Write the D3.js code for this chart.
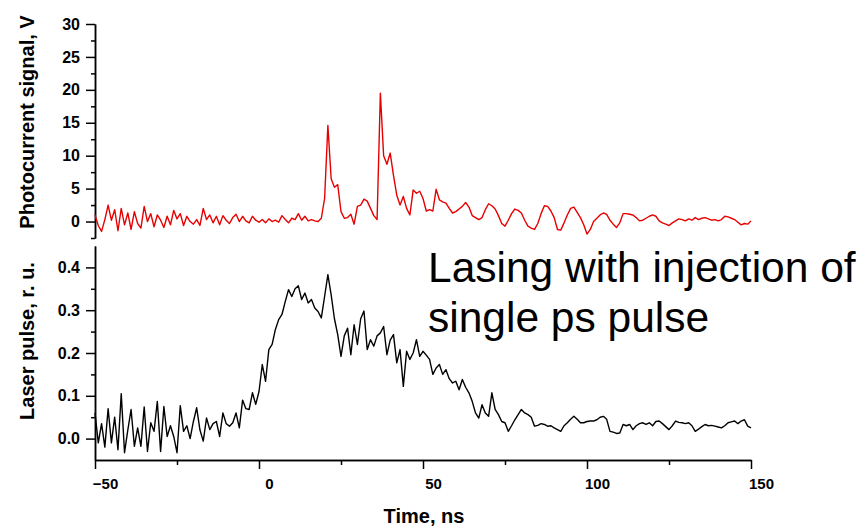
<!DOCTYPE html>
<html>
<head>
<meta charset="utf-8">
<script src="https://cdn.jsdelivr.net/npm/d3@7"></script>
<style>
  body { margin: 0; background: #fff; }
  .axis path, .axis line { stroke: #000; stroke-width: 1.5; }
  .axis text { font-family: "Liberation Sans", Arial, sans-serif; font-weight: bold; fill: #000; }
</style>
</head>
<body>
<svg id="chart"></svg>
<script>
// sample times: -50 ns to 150 ns, 1 ns step
var tStart = -50;
var tStep = 1;

// photocurrent signal, V (top panel)
var photoSignal = [
  1.0, -0.6, -1.5, 0.3, 2.5, 0.2, 1.8, -1.4, 2.0, -0.5,
  1.3, -1.2, 1.5, -0.3, -1.0, 2.3, 0.0, 1.2, -0.8, 1.0,
  0.2, -0.9, 0.8, -0.5, 1.7, 0.4, 1.2, -0.6, 0.8, 0.0,
  -0.4, 0.3, -0.6, 2.0, 0.3, 1.0, -0.2, 0.8, -0.5, 0.9,
  0.2, -0.3, 0.6, 1.1, 0.0, 0.8, 0.1, -0.2, 0.8, 0.2,
  -0.1, 0.3, -0.2, 0.4, 0.0, 0.2, -0.1, 0.9, 0.3, -0.2,
  0.5, 0.3, 1.2, 0.2, 0.8, 0.1, 0.3, 0.1, 0.0, 0.5,
  3.5, 14.6, 6.5, 5.2, 5.6, 1.5, 0.5, 0.6, 1.1, -0.4,
  2.3, 2.5, 3.4, 3.1, 2.0, 0.9, 0.3, 19.5, 10.0, 8.7,
  10.4, 7.0, 4.0, 2.5, 3.8, 2.0, 1.0, 4.8, 4.3, 4.6,
  3.5, 1.6, 1.8, 1.6, 4.9, 3.3, 3.0, 2.8, 2.0, 1.3,
  1.5, 1.9, 2.3, 2.9, 2.2, 0.9, 0.6, 0.3, 0.6, 1.8,
  2.7, 2.4, 1.9, 0.9, -0.3, -0.7, 0.2, 1.2, 1.9, 1.7,
  1.3, 0.2, -0.7, -1.0, -1.2, -0.3, 1.2, 2.4, 2.3, 1.6,
  0.6, -1.2, -1.3, -0.2, 1.0, 2.0, 2.2, 1.4, 0.6, -0.5,
  -1.9, -1.2, 0.0, 0.5, 1.0, 1.3, 1.1, 0.2, -0.4, -0.9,
  -0.2, 1.2, 1.2, 1.1, 1.0, 0.6, 0.1, 0.2, 0.5, 0.8,
  1.0, 0.8, 0.1, -0.2, -0.4, -0.6, -0.2, 0.1, 0.4, 0.3,
  0.1, 0.4, 0.2, 0.6, 0.3, 0.5, 0.6, 0.4, 0.2, 0.3,
  0.1, 0.3, 0.8, 0.7, 0.5, 0.3, -0.1, -0.5, -0.3, -0.4,
  0.1
];

// laser pulse, r. u. (bottom panel)
var laserPulse = [
  0.06, -0.01, 0.035, -0.02, 0.07, -0.01, 0.05, -0.026, 0.105, -0.033,
  0.02, 0.068, -0.018, 0.025, -0.018, 0.074, -0.03, 0.037, 0.017, 0.087,
  -0.03, 0.075, 0.005, 0.03, 0.005, -0.033, 0.077, 0.017, 0.03, 0.0,
  0.04, 0.072, 0.02, -0.006, 0.048, 0.021, 0.035, 0.04, 0.005, 0.06,
  0.035, 0.029, 0.037, 0.06, 0.025, 0.09, 0.07, 0.068, 0.107, 0.08,
  0.11, 0.173, 0.134, 0.208, 0.22, 0.255, 0.278, 0.29, 0.32, 0.348,
  0.332, 0.35, 0.357, 0.325, 0.34, 0.317, 0.325, 0.305, 0.297, 0.282,
  0.332, 0.383, 0.336, 0.28, 0.243, 0.192, 0.24, 0.258, 0.196, 0.266,
  0.22, 0.28, 0.298, 0.208, 0.231, 0.216, 0.24, 0.247, 0.262, 0.196,
  0.23, 0.243, 0.177, 0.208, 0.122, 0.204, 0.185, 0.2, 0.231, 0.192,
  0.204, 0.195, 0.185, 0.15, 0.165, 0.173, 0.15, 0.161, 0.14, 0.13,
  0.134, 0.114, 0.138, 0.12, 0.107, 0.087, 0.06, 0.048, 0.079, 0.06,
  0.052, 0.107, 0.068, 0.056, 0.04, 0.037, 0.017, 0.03, 0.044, 0.056,
  0.068, 0.06, 0.056, 0.05, 0.029, 0.031, 0.035, 0.033, 0.029, 0.03,
  0.025, 0.021, 0.017, 0.03, 0.037, 0.045, 0.052, 0.045, 0.037, 0.037,
  0.04, 0.041, 0.041, 0.044, 0.05, 0.052, 0.045, 0.017, 0.015, 0.012,
  0.013, 0.033, 0.03, 0.033, 0.021, 0.03, 0.035, 0.037, 0.033, 0.037,
  0.03, 0.04, 0.041, 0.035, 0.028, 0.021, 0.03, 0.041, 0.038, 0.037,
  0.035, 0.037, 0.03, 0.017, 0.022, 0.028, 0.033, 0.03, 0.031, 0.029,
  0.027, 0.025, 0.03, 0.037, 0.039, 0.041, 0.035, 0.041, 0.044, 0.029,
  0.025
];

var xTicks = [-50, 0, 50, 100, 150];
var xMinor = [-25, 25, 75, 125];
var topTicks = [0, 5, 10, 15, 20, 25, 30];
var topMinor = [-2.5, 2.5, 7.5, 12.5, 17.5, 22.5, 27.5];
var botTicks = [0, 0.1, 0.2, 0.3, 0.4];
var botMinor = [0.05, 0.15, 0.25, 0.35];

var xLabel = "Time, ns";
var yLabelTop = "Photocurrent signal, V";
var yLabelBot = "Laser pulse, r. u.";
var note = ["Lasing with injection of", "single ps pulse"];

var width = 861;
var height = 529;

var svg = d3.select("#chart")
    .attr("width", width)
    .attr("height", height);

svg.append("rect").attr("width", width).attr("height", height).attr("fill", "#fff");

var xScale = d3.scaleLinear().domain([-50, 150]).range([95, 751]);
var yTop = d3.scaleLinear().domain([-2.5, 30]).range([238, 24]);
var yBot = d3.scaleLinear().domain([-0.05, 0.45]).range([460, 246]);

var timeOf = function(i) { return tStart + i * tStep; };

// top y axis
svg.append("g")
    .attr("class", "axis")
    .attr("transform", "translate(95,0)")
    .call(d3.axisLeft(yTop).tickValues(topMinor).tickSize(4).tickSizeOuter(0).tickFormat(""));
svg.append("g")
    .attr("class", "axis")
    .attr("transform", "translate(95,0)")
    .call(d3.axisLeft(yTop).tickValues(topTicks).tickSize(9).tickSizeOuter(0).tickPadding(6))
    .selectAll("text").style("font-size", "16px");

// bottom y axis
svg.append("g")
    .attr("class", "axis")
    .attr("transform", "translate(95,0)")
    .call(d3.axisLeft(yBot).tickValues(botMinor).tickSize(4).tickSizeOuter(0).tickFormat(""));
svg.append("g")
    .attr("class", "axis")
    .attr("transform", "translate(95,0)")
    .call(d3.axisLeft(yBot).tickValues(botTicks).tickSize(9).tickSizeOuter(0).tickPadding(6)
      .tickFormat(d3.format(".1f")))
    .selectAll("text").style("font-size", "16px");

// x axis
svg.append("g")
    .attr("class", "axis")
    .attr("transform", "translate(0,460)")
    .call(d3.axisBottom(xScale).tickValues(xMinor).tickSize(5).tickSizeOuter(0).tickFormat(""));
svg.append("g")
    .attr("class", "axis")
    .attr("transform", "translate(0,460)")
    .call(d3.axisBottom(xScale).tickValues(xTicks).tickSize(9).tickSizeOuter(0).tickPadding(9))
    .selectAll("text")
      .style("font-size", "15px")
      .attr("dx", 10);

// traces
var lineTop = d3.line()
    .x(function(d, i) { return xScale(timeOf(i)); })
    .y(function(d) { return yTop(d); });

var lineBot = d3.line()
    .x(function(d, i) { return xScale(timeOf(i)); })
    .y(function(d) { return yBot(d); });

svg.append("path")
    .datum(photoSignal)
    .attr("fill", "none")
    .attr("stroke", "#e60000")
    .attr("stroke-width", 1.4)
    .attr("stroke-linejoin", "round")
    .attr("d", lineTop);

svg.append("path")
    .datum(laserPulse)
    .attr("fill", "none")
    .attr("stroke", "#000")
    .attr("stroke-width", 1.4)
    .attr("stroke-linejoin", "round")
    .attr("d", lineBot);

// axis titles
svg.append("text")
    .attr("transform", "translate(34,122) rotate(-90)")
    .attr("text-anchor", "middle")
    .attr("font-family", "Liberation Sans, Arial, sans-serif")
    .attr("font-weight", "bold")
    .attr("font-size", "20px")
    .text(yLabelTop);

svg.append("text")
    .attr("transform", "translate(34,341) rotate(-90)")
    .attr("text-anchor", "middle")
    .attr("font-family", "Liberation Sans, Arial, sans-serif")
    .attr("font-weight", "bold")
    .attr("font-size", "20px")
    .text(yLabelBot);

svg.append("text")
    .attr("x", 424)
    .attr("y", 523)
    .attr("text-anchor", "middle")
    .attr("font-family", "Liberation Sans, Arial, sans-serif")
    .attr("font-weight", "bold")
    .attr("font-size", "20px")
    .text(xLabel);

// annotation
svg.selectAll(".note")
    .data(note)
    .enter()
    .append("text")
    .attr("class", "note")
    .attr("x", 428)
    .attr("y", function(d, i) { return 282 + i * 50; })
    .attr("font-family", "Liberation Sans, Arial, sans-serif")
    .attr("font-size", "42.5px")
    .attr("fill", "#000")
    .text(function(d) { return d; });
</script>
</body>
</html>
